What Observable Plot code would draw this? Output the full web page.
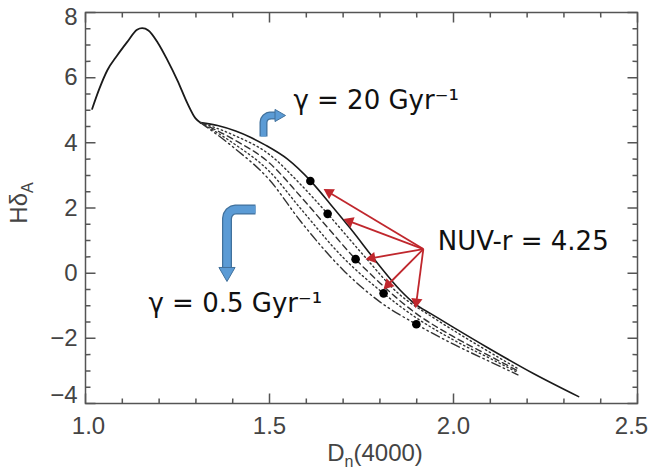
<!DOCTYPE html>
<html><head><meta charset="utf-8">
<script src="https://cdn.jsdelivr.net/npm/d3@7"></script>
<script src="https://cdn.jsdelivr.net/npm/@observablehq/plot@0.6"></script>
<style>body{margin:0;background:#fff}#chart{width:655px;height:470px}</style>
</head><body><div id="chart"></div>
<script>
// ---- data ----
const peakX = [1.018, 1.038, 1.059, 1.086, 1.113, 1.140, 1.154, 1.171, 1.196, 1.223, 1.250, 1.277, 1.299, 1.3125];
const peakY = [5.04, 5.67, 6.22, 6.68, 7.09, 7.47, 7.52, 7.45, 7.08, 6.53, 5.91, 5.21, 4.75, 4.62];
const g20X = [1.3125, 1.359, 1.408, 1.448, 1.489, 1.549, 1.611, 1.666, 1.720, 1.794, 1.856, 1.897, 1.938, 1.992, 2.092, 2.217, 2.340];
const g20Y = [4.62, 4.53, 4.36, 4.17, 3.93, 3.50, 2.84, 2.11, 1.37, 0.30, -0.53, -0.96, -1.24, -1.61, -2.28, -3.08, -3.79];
const c2X = [1.3125, 1.40, 1.50, 1.584, 1.658, 1.75, 1.85, 1.95, 2.05, 2.175];
const c2Y = [4.62, 4.25, 3.64, 2.73, 1.82, 0.62, -0.62, -1.40, -2.10, -2.93];
const c3X = [1.3125, 1.40, 1.50, 1.584, 1.658, 1.734, 1.80, 1.90, 2.00, 2.10, 2.175];
const c3Y = [4.62, 4.12, 3.38, 2.36, 1.40, 0.43, -0.30, -1.25, -1.95, -2.55, -3.00];
const c4X = [1.3125, 1.40, 1.50, 1.584, 1.70, 1.81, 1.90, 2.00, 2.10, 2.175];
const c4Y = [4.62, 4.00, 3.12, 1.99, 0.48, -0.62, -1.38, -2.05, -2.62, -3.05];
const c5X = [1.3125, 1.40, 1.50, 1.584, 1.70, 1.80, 1.899, 2.00, 2.10, 2.175];
const c5Y = [4.62, 3.88, 2.86, 1.60, 0.10, -0.88, -1.57, -2.18, -2.72, -3.12];

const dotX = [1.611, 1.658, 1.734, 1.810, 1.899];
const dotY = [2.83, 1.82, 0.43, -0.62, -1.57];

const arrowOrigin = [1.918, 0.74];
const tipX = [1.647, 1.701, 1.761, 1.810, 1.897];
const tipY = [2.58, 1.66, 0.43, -0.49, -1.08];

const annText = ["γ = 20 Gyr⁻¹", "NUV-r = 4.25", "γ = 0.5 Gyr⁻¹"];
const annX = [1.565, 1.957, 1.171];
const annY = [5.30, 0.97, -0.93];

const upArrowX = [1.4837, 1.4837, 1.4851, 1.4893, 1.4954, 1.5027];
const upArrowY = [4.194, 4.624, 4.706, 4.776, 4.823, 4.839];
const upArrowTip = [1.5435, 4.839];
const downArrowX = [1.462, 1.409, 1.3996, 1.3917, 1.3864, 1.3845, 1.3845];
const downArrowY = [1.955, 1.955, 1.934, 1.874, 1.785, 1.679, 0.40];
const downArrowTip = [1.3845, -0.255];

const xMajor = [1.0, 1.5, 2.0, 2.5];
const xMinor = [1.1, 1.2, 1.3, 1.4, 1.6, 1.7, 1.8, 1.9, 2.1, 2.2, 2.3, 2.4];
const yMajor = [-4, -2, 0, 2, 4, 6, 8];
const yMinor = [-3.5, -3, -2.5, -1.5, -1, -0.5, 0.5, 1, 1.5, 2.5, 3, 3.5, 4.5, 5, 5.5, 6.5, 7, 7.5];

// ---- layout ----
const W = 655, H = 470, mL = 85, mR = 18, mT = 12, mB = 67;
const xDomain = [1, 2.5], yDomain = [-4, 8];
const kx = (W - mL - mR) / (xDomain[1] - xDomain[0]);
const ky = (H - mT - mB) / (yDomain[1] - yDomain[0]);
const majLen = 10, minLen = 5;

const pts = (xs, ys) => xs.map((x, i) => ({x, y: ys[i]}));
function head(tx, ty, ox, oy, r) {
  const dxp = (tx - ox) * kx, dyp = -(ty - oy) * ky;
  const len = Math.hypot(dxp, dyp), ux = dxp / len, uy = dyp / len;
  const d = 1.555 * r;
  return {x: tx - ux * d / kx, y: ty + uy * d / ky, rotate: Math.atan2(ux, -uy) * 180 / Math.PI};
}

const curves = [
  {d: pts(g20X, g20Y), dash: null, w: 1.6, c: "#1a1a1a"},
  {d: pts(c2X, c2Y), dash: "1.4,3", w: 1.4, c: "#333"},
  {d: pts(c3X, c3Y), dash: "6,4", w: 1.4, c: "#333"},
  {d: pts(c4X, c4Y), dash: "1.4,3", w: 1.4, c: "#333"},
  {d: pts(c5X, c5Y), dash: "9,3.5,1.5,3.5,1.5,3.5", w: 1.4, c: "#333"}
];

const redR = 4.2;
const redHeads = tipX.map((tx, i) => head(tx, tipY[i], arrowOrigin[0], arrowOrigin[1], redR));
const redLinks = redHeads.map(h => ({x1: arrowOrigin[0], y1: arrowOrigin[1], x2: h.x, y2: h.y}));

const upHead = head(upArrowTip[0], upArrowTip[1], upArrowX[upArrowX.length - 1], upArrowY[upArrowY.length - 1], 4.5);
const upPath = pts(upArrowX, upArrowY).concat([{x: upHead.x, y: upHead.y}]);
const dnHead = head(downArrowTip[0], downArrowTip[1], downArrowX[downArrowX.length - 1], downArrowY[downArrowY.length - 1], 6);
const dnPath = pts(downArrowX, downArrowY).concat([{x: dnHead.x, y: dnHead.y}]);

const blue = "#5b9bd5", blueDark = "#41719c", red = "#c0272d";
const tickCol = "#555";
const labFont = "Liberation Sans, Arial, Helvetica, sans-serif";

// inward tick segments on all four sides (as a table for Plot.link)
const eps = 0.0001;
const tickSegs = [];
for (const [vals, len] of [[xMinor, minLen], [xMajor, majLen]]) {
  for (const v of vals) {
    tickSegs.push({x1: v, x2: v + eps, y1: yDomain[0], y2: yDomain[0] + len / ky});
    tickSegs.push({x1: v, x2: v + eps, y1: yDomain[1], y2: yDomain[1] - len / ky});
  }
}
for (const [vals, len] of [[yMinor, minLen], [yMajor, majLen]]) {
  for (const v of vals) {
    tickSegs.push({x1: xDomain[0], x2: xDomain[0] + len / kx, y1: v, y2: v + eps});
    tickSegs.push({x1: xDomain[1], x2: xDomain[1] - len / kx, y1: v, y2: v + eps});
  }
}

const plot = Plot.plot({
  width: W, height: H,
  marginLeft: mL, marginRight: mR, marginTop: mT, marginBottom: mB,
  x: {domain: xDomain, label: null},
  y: {domain: yDomain, label: null},
  style: {color: "#444", fontFamily: labFont, background: "#fff"},
  marks: [
    // tick labels
    Plot.axisX({anchor: "bottom", ticks: xMajor.slice(1, 3), tickSize: 0, tickPadding: 13, fontSize: 24, tickFormat: d3.format(".1f"), label: null}),
    Plot.axisX({anchor: "bottom", ticks: xMajor.slice(0, 1), tickSize: 0, tickPadding: 13, fontSize: 24, dx: 3, tickFormat: d3.format(".1f"), label: null}),
    Plot.axisX({anchor: "bottom", ticks: xMajor.slice(3), tickSize: 0, tickPadding: 13, fontSize: 24, dx: -6, tickFormat: d3.format(".1f"), label: null}),
    Plot.axisY({anchor: "left", ticks: yMajor.slice(1, 6), tickSize: 0, tickPadding: 8, fontSize: 24, label: null}),
    Plot.axisY({anchor: "left", ticks: yMajor.slice(6), tickSize: 0, tickPadding: 8, fontSize: 24, dy: 5, label: null}),
    Plot.axisY({anchor: "left", ticks: yMajor.slice(0, 1), tickSize: 0, tickPadding: 8, fontSize: 24, dy: -8, label: null}),
    Plot.frame({stroke: "#555", strokeWidth: 1.5}),
    Plot.link(tickSegs, {x1: "x1", y1: "y1", x2: "x2", y2: "y2", stroke: tickCol, strokeWidth: 1.5}),
    // curves
    Plot.line(pts(peakX, peakY), {x: "x", y: "y", stroke: "#1a1a1a", strokeWidth: 1.8, curve: "monotone-x"}),
    ...curves.map(c => Plot.line(c.d, {x: "x", y: "y", stroke: c.c, strokeWidth: c.w, strokeDasharray: c.dash, curve: "monotone-x"})),
    // blue bent arrows
    Plot.line(upPath, {x: "x", y: "y", stroke: blueDark, strokeWidth: 8, curve: "linear", strokeLinecap: "butt", strokeLinejoin: "round"}),
    Plot.line(upPath, {x: "x", y: "y", stroke: blue, strokeWidth: 5.5, curve: "linear", strokeLinecap: "butt", strokeLinejoin: "round"}),
    Plot.dot([upHead], {x: "x", y: "y", rotate: "rotate", symbol: "triangle", r: 4.5, fill: blue, stroke: blueDark, strokeWidth: 1}),
    Plot.line(dnPath, {x: "x", y: "y", stroke: blueDark, strokeWidth: 10, curve: "linear", strokeLinecap: "butt", strokeLinejoin: "round"}),
    Plot.line(dnPath, {x: "x", y: "y", stroke: blue, strokeWidth: 7.5, curve: "linear", strokeLinecap: "butt", strokeLinejoin: "round"}),
    Plot.dot([dnHead], {x: "x", y: "y", rotate: "rotate", symbol: "triangle", r: 6, fill: blue, stroke: blueDark, strokeWidth: 1}),
    // red arrows
    Plot.link(redLinks, {x1: "x1", y1: "y1", x2: "x2", y2: "y2", stroke: red, strokeWidth: 1.8}),
    Plot.dot(redHeads, {x: "x", y: "y", rotate: "rotate", symbol: "triangle", r: redR, fill: red}),
    // points
    Plot.dot(pts(dotX, dotY), {x: "x", y: "y", r: 4.3, fill: "#000"}),
    // annotations
    Plot.text(annText.map((t, i) => ({t, x: annX[i], y: annY[i]})), {x: "x", y: "y", text: "t", textAnchor: "start", fontSize: 26, fontFamily: "DejaVu Sans, Verdana, sans-serif", fill: "#111"})
  ]
});

const svg = d3.select(plot);
const yt = svg.append("text").attr("transform", "translate(27,203) rotate(-90)")
  .attr("text-anchor", "middle").attr("fill", "#444").attr("font-size", 24).attr("font-family", labFont);
yt.append("tspan").text("Hδ");
yt.append("tspan").attr("font-size", 16).attr("dy", 6).text("A");
const xt = svg.append("text").attr("x", 375).attr("y", 461)
  .attr("text-anchor", "middle").attr("fill", "#444").attr("font-size", 24).attr("font-family", labFont);
xt.append("tspan").text("D");
xt.append("tspan").attr("font-size", 16).attr("dy", 6).text("n");
xt.append("tspan").attr("dy", -6).text("(4000)");

document.getElementById("chart").appendChild(plot);
</script></body></html>
